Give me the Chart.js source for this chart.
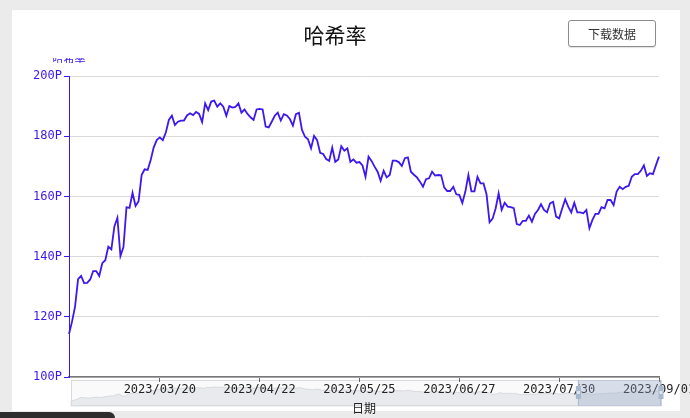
<!DOCTYPE html>
<html lang="zh">
<head>
    <meta charset="UTF-8">
    <meta name="viewport" content="width=device-width, initial-scale=1.0">
    <title>哈希率</title>
    <script src="https://cdn.jsdelivr.net/npm/chart.js@4.4.3/dist/chart.umd.min.js"></script>
    <style>
        body { margin: 0; width: 690px; height: 418px; overflow: hidden; position: relative; background: #ebebeb; font-family: "Noto Sans CJK SC", sans-serif; }
        .card { position: absolute; left: 12px; top: 10px; width: 668px; height: 401px; background: #fff; }
        .title { position: absolute; left: 0; top: 20px; width: 670px; text-align: center; font-size: 21px; line-height: 28px; color: #111; }
        .btn { position: absolute; left: 568px; top: 20px; width: 88px; height: 27px; box-sizing: border-box; border: 1px solid #8c8c8c; border-radius: 3px; font-size: 12px; line-height: 25px; text-align: center; color: #333; background: #fff; box-shadow: 0 1px 1px rgba(0,0,0,0.12); }
        .wrap { position: absolute; left: 0; top: 0; width: 690px; height: 418px; }
        .bar { position: absolute; left: 0; top: 412px; width: 115px; height: 6px; background: #2d2d2d; border-radius: 0 6px 0 0; }
    </style>
</head>
<body>
    <div class="card"></div>
    <div class="wrap"><canvas id="chart" width="690" height="418"></canvas></div>
    <div class="title">哈希率</div>
    <div class="btn">下载数据</div>
    <div class="bar"></div>

    <script>
        // 数据：2023/02/18 起每日哈希率 (P)
        const startDate = '2023-02-18';
        const hashRate = [
            114.3, 118.4, 123.4, 132.5, 133.6, 131.2, 131.3, 132.4, 135.2, 135.2,
            133.6, 137.8, 138.8, 143.3, 142.4, 150.0, 152.9, 140.2, 143.2, 156.4,
            156.2, 161.2, 156.8, 158.4, 167.1, 169.0, 168.8, 172.1, 176.3, 178.7,
            179.6, 178.7, 181.2, 185.4, 186.8, 183.7, 184.8, 185.2, 185.2, 186.9,
            187.6, 187.0, 188.1, 187.4, 184.7, 190.9, 188.7, 191.5, 191.8, 189.8,
            190.9, 189.8, 186.8, 190.0, 189.5, 189.7, 190.9, 187.8, 188.9, 187.4,
            186.3, 185.4, 188.9, 189.1, 188.9, 183.2, 182.9, 184.8, 186.8, 187.8,
            185.2, 187.3, 186.9, 185.7, 183.5, 187.3, 187.8, 182.1, 179.8, 179.0,
            176.0, 180.1, 178.7, 174.5, 174.1, 172.4, 171.8, 176.2, 171.5, 172.3,
            176.7, 175.2, 176.0, 171.5, 172.3, 171.2, 171.4, 170.3, 166.5, 173.2,
            171.8, 169.9, 168.2, 165.2, 168.5, 166.3, 167.1, 171.9, 171.9, 171.4,
            170.1, 172.7, 173.0, 168.2, 167.2, 166.3, 164.9, 163.2, 165.7, 166.0,
            168.2, 166.9, 167.1, 167.0, 163.0, 161.8, 161.8, 163.2, 160.7, 160.5,
            157.8, 161.6, 167.1, 161.7, 161.7, 166.5, 164.3, 164.3, 160.7, 151.4,
            152.6, 156.0, 161.0, 155.5, 157.9, 156.6, 156.4, 156.1, 150.8, 150.5,
            151.9, 151.9, 153.6, 151.6, 154.2, 155.5, 157.4, 155.5, 154.7, 157.7,
            158.2, 153.3, 152.7, 156.0, 159.0, 156.6, 154.7, 157.9, 154.7, 154.7,
            154.4, 155.5, 149.4, 152.2, 154.2, 154.2, 156.4, 156.0, 158.8, 158.8,
            157.1, 161.6, 163.2, 162.4, 163.2, 163.5, 166.5, 167.4, 167.4, 168.5,
            170.3, 166.8, 167.7, 167.4, 170.4, 173.2
        ];
        const tickLabels = ['2023/03/20', '2023/04/22', '2023/05/25', '2023/06/27', '2023/07/30', '2023/09/01'];
        const yTicks = [100, 120, 140, 160, 180, 200];
        const zoomRange = [86, 100];   // 缩放条选中范围 (%)

        const purple = '#3d17ef';
        const mono = '"DejaVu Sans Mono", monospace';

        // 日期类目
        const dates = [];
        const d0 = new Date(startDate + 'T00:00:00Z');
        for (let i = 0; i < hashRate.length; i++) {
            const d = new Date(d0.getTime() + i * 86400000);
            const mm = String(d.getUTCMonth() + 1).padStart(2, '0');
            const dd = String(d.getUTCDate()).padStart(2, '0');
            dates.push(`${d.getUTCFullYear()}/${mm}/${dd}`);
        }

        // 缩放条背景 + 轴名
        const extras = {
            id: 'extras',
            beforeDraw(chart) {
                const { ctx, chartArea: a } = chart;
                const l = a.left + 2, r = a.right + 2, t = a.bottom + 3, b = a.bottom + 29;
                ctx.save();
                ctx.fillStyle = '#fafafa';
                ctx.fillRect(l, t, r - l, b - t);
                // 数据阴影
                const min = Math.min(...hashRate), max = Math.max(...hashRate);
                ctx.beginPath();
                ctx.moveTo(l, b);
                hashRate.forEach((v, i) => {
                    const x = l + i / (hashRate.length - 1) * (r - l);
                    const y = b - 5 - (v - min) / (max - min) * (b - t - 12);
                    ctx.lineTo(x, y);
                });
                ctx.lineTo(r, b);
                ctx.closePath();
                ctx.fillStyle = 'rgba(200,204,212,0.35)';
                ctx.fill();
                ctx.strokeStyle = 'rgba(180,184,192,0.5)';
                ctx.lineWidth = 0.8;
                ctx.stroke();
                ctx.strokeStyle = '#d8dbe0';
                ctx.lineWidth = 1;
                ctx.strokeRect(l + 0.5, t + 0.5, r - l - 1, b - t - 1);
                ctx.restore();
            },
            afterDraw(chart) {
                const { ctx, chartArea: a } = chart;
                const l = a.left + 2, r = a.right + 2, t = a.bottom + 3, b = a.bottom + 29;
                const zl = l + zoomRange[0] / 100 * (r - l);
                const zr = l + zoomRange[1] / 100 * (r - l);
                ctx.save();
                ctx.fillStyle = 'rgba(150,170,200,0.35)';
                ctx.fillRect(zl, t, zr - zl, b - t);
                ctx.fillStyle = '#a7b7cc';
                [zl, zr].forEach(x => {
                    ctx.fillRect(x - 0.5, t, 1, b - t);
                    ctx.fillRect(x - 2.5, t + 6, 5, 13);
                });
                ctx.fillStyle = '#dfe5ee';
                [zl, zr].forEach(x => ctx.fillRect(x - 1.5, t + 11, 3, 3));

                // x 轴名
                ctx.fillStyle = '#222';
                ctx.font = '12px "Noto Sans CJK SC", sans-serif';
                ctx.textAlign = 'center';
                ctx.textBaseline = 'middle';
                ctx.fillText('日期', (a.left + a.right) / 2, 408);

                // y 轴名（上半被遮住）
                ctx.beginPath();
                ctx.rect(40, 58, 60, 5);
                ctx.clip();
                ctx.fillStyle = purple;
                ctx.font = '11px "Noto Sans CJK SC", sans-serif';
                ctx.textBaseline = 'alphabetic';
                ctx.fillText('哈希率', a.left, 63);
                ctx.restore();
            }
        };

        new Chart(document.getElementById('chart'), {
            type: 'line',
            data: {
                labels: dates,
                datasets: [{
                    label: '哈希率',
                    data: hashRate,
                    borderColor: purple,
                    borderWidth: 1.8,
                    pointRadius: 0,
                    tension: 0,
                    fill: false
                }]
            },
            options: {
                responsive: false,
                animation: false,
                devicePixelRatio: 1,
                layout: { padding: { left: 0, top: 76, right: 31, bottom: 0 } },
                plugins: {
                    legend: { display: false },
                    tooltip: { enabled: false }
                },
                scales: {
                    x: {
                        type: 'category',
                        offset: false,
                        afterBuildTicks: s => {
                            s.ticks = s.ticks.filter(t => tickLabels.includes(dates[t.value]));
                        },
                        afterFit: s => { s.height = 41; s.paddingLeft = 0; s.paddingRight = 0; },
                        ticks: {
                            autoSkip: false,
                            maxRotation: 0,
                            padding: 1,
                            color: '#222',
                            font: { family: mono, size: 12 }
                        },
                        grid: { drawOnChartArea: false, tickLength: 5, tickColor: '#666' },
                        border: { color: '#777', width: 1.5 }
                    },
                    y: {
                        min: 100,
                        max: 200,
                        afterBuildTicks: s => { s.ticks = yTicks.map(v => ({ value: v })); },
                        afterFit: s => { s.width = 69; },
                        ticks: {
                            padding: 2,
                            color: purple,
                            font: { family: mono, size: 12 },
                            callback: v => v + 'P'
                        },
                        grid: { color: '#d9d9d9', lineWidth: 1, tickLength: 5, tickColor: purple },
                        border: { color: purple, width: 1 }
                    }
                }
            },
            plugins: [extras]
        });
    </script>
</body>
</html>
